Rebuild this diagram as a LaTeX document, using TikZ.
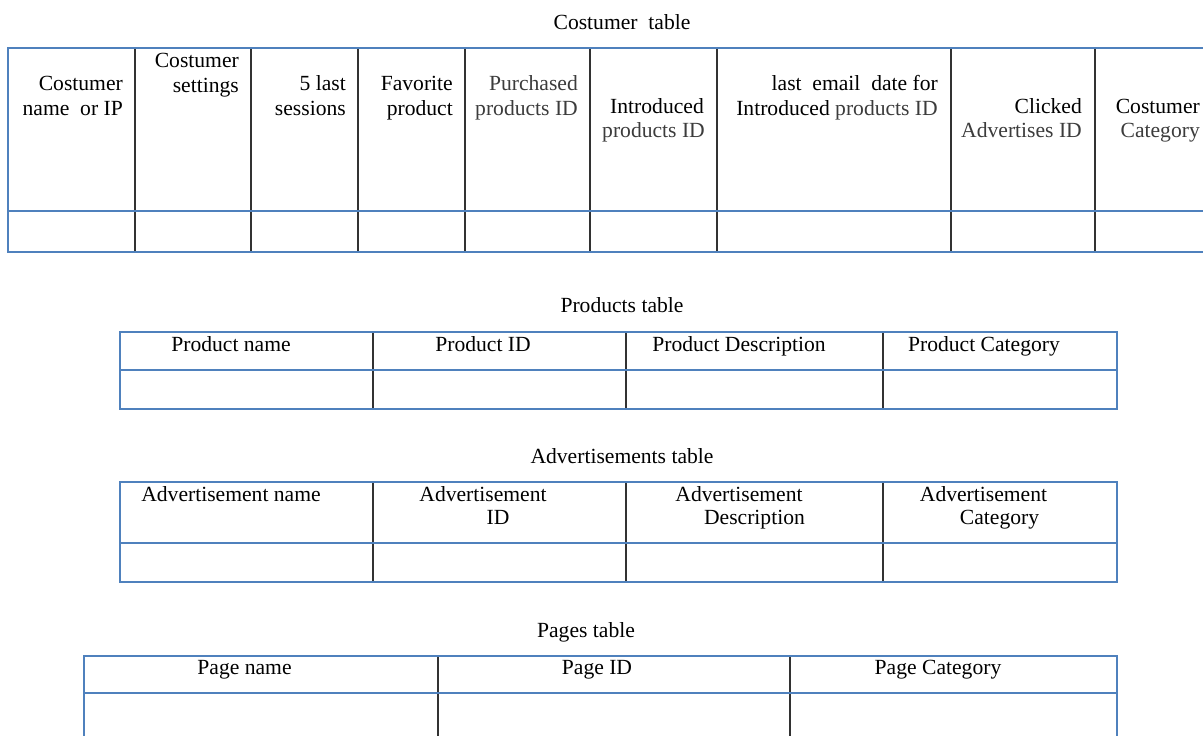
\documentclass[tikz,border=0pt]{standalone}
\usepackage{fontspec}
\setmainfont{Liberation Serif}
\definecolor{tblue}{RGB}{79,129,189}
\definecolor{tdark}{RGB}{50,50,50}
\definecolor{tgray}{RGB}{60,60,60}
\begin{document}
\begin{tikzpicture}[x=1pt,y=-1pt,
  txt/.style={inner sep=0pt, font=\fontsize{21.6}{25}\selectfont},
  rt/.style={txt, anchor=base east},
  ct/.style={txt, anchor=base},
  lt/.style={text=tgray},
  hline/.style={draw=tblue, line width=1.4pt},
  vline/.style={draw=tdark, line width=1.3pt}]
\clip (0,0) rectangle (1203,736);
\fill[white] (0,0) rectangle (1203,736);

% ---------- Costumer table ----------
\node[ct] (t1) at (622,29) {Costumer\ \ table};
\foreach \x in {135,251,358,465,590,717,951,1095}
  \draw[vline] (\x,48) -- (\x,252);
\draw[hline] (1210,48) -- (8,48) -- (8,252) -- (1210,252);
\draw[hline] (8,211) -- (1210,211);

\node[rt] (c1a) at (123,90) {Costumer};
\node[rt] (c1b) at (123,115) {name\ \ or IP};
\node[rt] (c2a) at (239,67) {Costumer};
\node[rt] (c2b) at (239,92) {settings};
\node[rt] (c3a) at (346,90) {5 last};
\node[rt] (c3b) at (346,115) {sessions};
\node[rt] (c4a) at (453,90) {Favorite};
\node[rt] (c4b) at (453,115) {product};
\node[rt,lt] (c5a) at (578,90) {Purchased};
\node[rt,lt] (c5b) at (578,115) {products ID};
\node[rt] (c6a) at (704,113) {Introduced};
\node[rt,lt] (c6b) at (705,137) {products ID};
\node[rt] (c7a) at (938,90) {last\ \ email\ \ date for};
\node[rt] (c7b) at (938,115) {Introduced \textcolor{tgray}{products ID}};
\node[rt] (c8a) at (1082,113) {Clicked};
\node[rt,lt] (c8b) at (1082,137) {Advertises ID};
\node[rt] (c9a) at (1200,113) {Costumer};
\node[rt,lt] (c9b) at (1200,137) {Category};

% ---------- Products table ----------
\node[ct] (t2) at (622,312) {Products table};
\foreach \x in {373,626,883}
  \draw[vline] (\x,332) -- (\x,409);
\draw[hline] (120,332) rectangle (1117,409);
\draw[hline] (120,370) -- (1117,370);
\node[ct] (p1) at (231,351) {Product name};
\node[ct] (p2) at (483,351) {Product ID};
\node[ct] (p3) at (739,351) {Product Description};
\node[ct] (p4) at (984,351) {Product Category};

% ---------- Advertisements table ----------
\node[ct] (t3) at (622,463) {Advertisements table};
\foreach \x in {373,626,883}
  \draw[vline] (\x,482) -- (\x,582);
\draw[hline] (120,482) rectangle (1117,582);
\draw[hline] (120,543) -- (1117,543);
\node[ct] (a1) at (231,501) {Advertisement name};
\node[ct] (a2a) at (483,501) {Advertisement};
\node[ct] (a2b) at (498,524) {ID};
\node[ct] (a3a) at (739,501) {Advertisement};
\node[ct] (a3b) at (754.5,524) {Description};
\node[ct] (a4a) at (983.5,501) {Advertisement};
\node[ct] (a4b) at (999.5,524) {Category};

% ---------- Pages table ----------
\node[ct] (t4) at (586,637) {Pages table};
\foreach \x in {438,790}
  \draw[vline] (\x,656) -- (\x,745);
\draw[hline] (84,745) -- (84,656) -- (1117,656) -- (1117,745);
\draw[hline] (84,693) -- (1117,693);
\node[ct] (g1) at (244.5,674) {Page name};
\node[ct] (g2) at (597,674) {Page ID};
\node[ct] (g3) at (938,674) {Page Category};
\end{tikzpicture}
\end{document}
